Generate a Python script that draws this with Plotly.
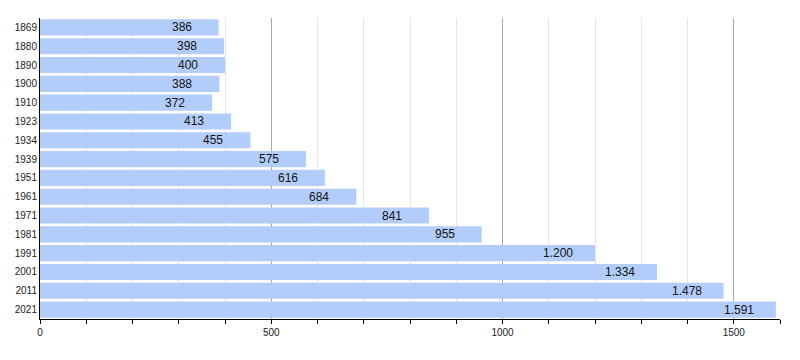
import plotly.graph_objects as go

years = ["1869", "1880", "1890", "1900", "1910", "1923", "1934", "1939", "1951",
         "1961", "1971", "1981", "1991", "2001", "2011", "2021"]
population = [386, 398, 400, 388, 372, 413, 455, 575, 616, 684, 841, 955, 1200, 1334, 1478, 1591]
labels = ["386", "398", "400", "388", "372", "413", "455", "575", "616", "684", "841",
          "955", "1.200", "1.334", "1.478", "1.591"]

fig = go.Figure()
fig.add_trace(go.Bar(
    x=population, y=years, orientation="h",
    marker=dict(color="#b3cdfb", line=dict(width=0)),
    hoverinfo="skip",
))

for i, (v, lab) in enumerate(zip(population, labels)):
    fig.add_annotation(x=v, y=i, text=lab, showarrow=False, xanchor="center",
                       xshift=-37, font=dict(family="Liberation Sans, Arial", size=12, color="#111"))

fig.update_layout(
    width=800, height=360,
    margin=dict(l=32, r=28, t=10, b=49),
    plot_bgcolor="white", paper_bgcolor="white",
    bargap=0.14,
    showlegend=False,
    font=dict(family="Liberation Sans, Arial", size=10, color="#222"),
)
fig.update_xaxes(
    range=[0, 1600], tickvals=[0, 500, 1000, 1500],
    showgrid=True, gridcolor="#a8a8a8", gridwidth=1,
    showline=True, linecolor="black", linewidth=1,
    ticks="outside", ticklen=4, tickcolor="black",
    minor=dict(dtick=100, tick0=0, showgrid=True, gridcolor="#e6e6e6",
               ticks="outside", ticklen=4, tickcolor="black"),
    zeroline=False, tickfont=dict(size=10), automargin=False,
)
fig.update_yaxes(
    type="category", categoryorder="array", categoryarray=years,
    range=[len(years) - 0.5, -0.5],
    showline=True, linecolor="black", linewidth=1,
    ticks="", showgrid=False, tickfont=dict(size=10), automargin=False,
)

fig.write_html("out.html")
